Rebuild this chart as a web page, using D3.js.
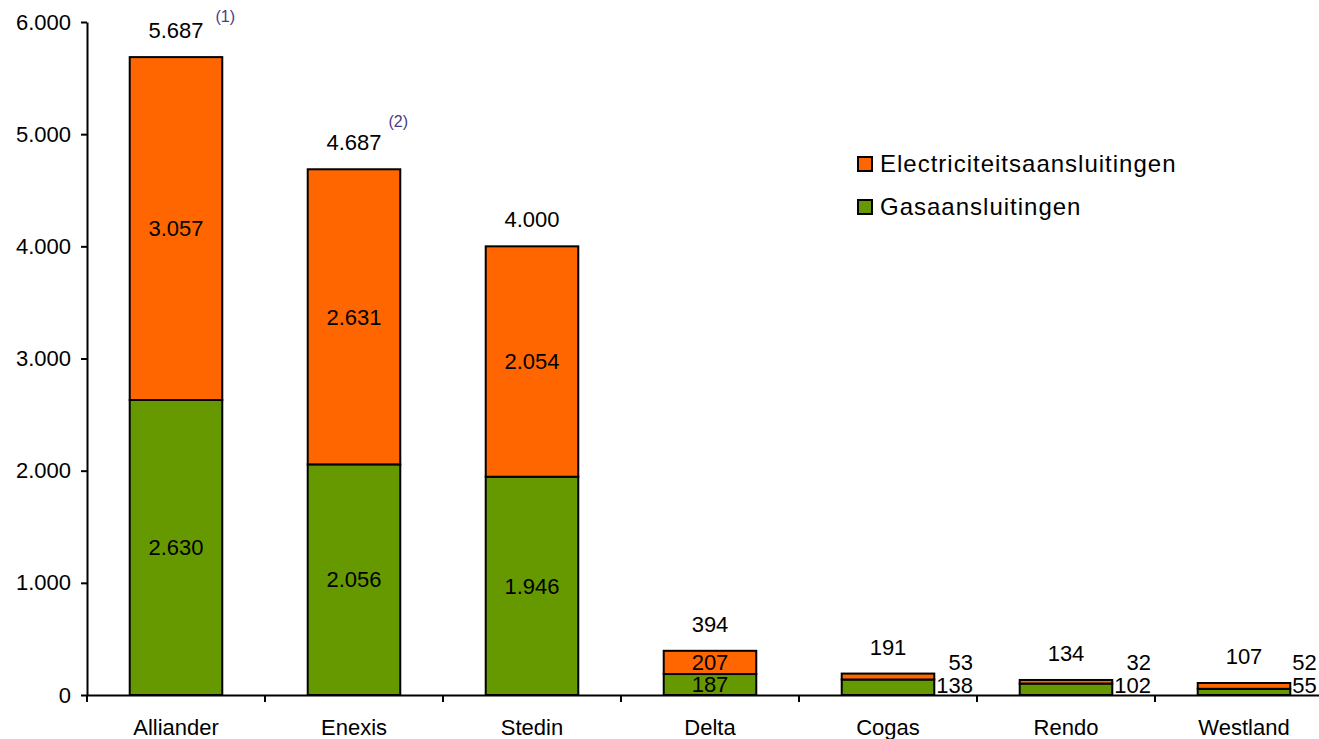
<!DOCTYPE html>
<html>
<head>
<meta charset="utf-8">
<script src="https://cdn.jsdelivr.net/npm/d3@7"></script>
<style>
  body { margin: 0; background: #fff; }
  svg { display: block; font-family: "Liberation Sans", Arial, sans-serif; }
</style>
</head>
<body>
<svg id="chart" width="1319" height="739"></svg>
<script>
var categories = ['Alliander', 'Enexis', 'Stedin', 'Delta', 'Cogas', 'Rendo', 'Westland'];
var gasValues = [2630, 2056, 1946, 187, 138, 102, 55];
var elecValues = [3057, 2631, 2054, 207, 53, 32, 52];
var totals = [5687, 4687, 4000, 394, 191, 134, 107];
var yTicks = [0, 1000, 2000, 3000, 4000, 5000, 6000];
var seriesNames = ['Electriciteitsaansluitingen', 'Gasaansluitingen'];
var notes = [{cat: 'Alliander', text: '(1)'}, {cat: 'Enexis', text: '(2)'}];
// small bars get their labels next to the bar
var sideLabelCats = ['Cogas', 'Rendo', 'Westland'];

var ORANGE = '#FF6600', GREEN = '#669900';
var fmt = function(v) { return d3.format(',')(v).replace(/,/g, '.'); };

var svg = d3.select('#chart');
var plotLeft = 87, plotBottom = 695, plotTop = 22, plotRight = 1333;

var x = d3.scaleBand().domain(categories).range([plotLeft, plotRight])
    .paddingInner(0.48).paddingOuter(0.24);
var y = d3.scaleLinear().domain([0, 6000]).range([plotBottom, plotTop]);

var rows = categories.map(function(c, i) {
    return {cat: c, gas: gasValues[i], elec: elecValues[i], total: totals[i]};
});

// y axis
var yAxis = svg.append('g').attr('transform', 'translate(' + plotLeft + ',0)')
    .call(d3.axisLeft(y).tickValues(yTicks).tickFormat(fmt).tickSize(6).tickSizeOuter(0));
yAxis.select('.domain').attr('stroke', '#000').attr('stroke-width', 2);
yAxis.selectAll('.tick line').attr('stroke', '#000').attr('stroke-width', 2);
yAxis.selectAll('.tick text').attr('font-size', 22).attr('fill', '#000')
    .attr('font-family', '"Liberation Sans", Arial, sans-serif').attr('x', -16);

// bars
var barG = svg.append('g');
rows.forEach(function(d) {
    barG.append('rect')
        .attr('x', x(d.cat)).attr('width', x.bandwidth())
        .attr('y', y(d.gas)).attr('height', y(0) - y(d.gas))
        .attr('fill', GREEN).attr('stroke', '#000').attr('stroke-width', 2);
    barG.append('rect')
        .attr('x', x(d.cat)).attr('width', x.bandwidth())
        .attr('y', y(d.gas + d.elec)).attr('height', y(d.gas) - y(d.gas + d.elec))
        .attr('fill', ORANGE).attr('stroke', '#000').attr('stroke-width', 2);
});

// x axis
var xAxis = svg.append('g').attr('transform', 'translate(0,' + plotBottom + ')')
    .call(d3.axisBottom(x).tickSize(0).tickSizeOuter(0));
xAxis.select('.domain').attr('stroke', '#000').attr('stroke-width', 2);
xAxis.selectAll('.tick text').attr('font-size', 22).attr('fill', '#000')
    .attr('font-family', '"Liberation Sans", Arial, sans-serif').attr('dy', 0).attr('y', 40);
// category boundary ticks
var half = x.step() * x.paddingInner() / 2;
var bounds = categories.map(function(c) { return x(c) - half; });
bounds.push(x(categories[categories.length - 1]) + x.bandwidth() + half);
xAxis.selectAll('line.bound').data(bounds).enter().append('line')
    .attr('class', 'bound')
    .attr('x1', function(d) { return d; }).attr('x2', function(d) { return d; })
    .attr('y1', 0).attr('y2', 7)
    .attr('stroke', '#000').attr('stroke-width', 2);

// labels
var lab = svg.append('g').attr('font-size', 22).attr('fill', '#000');
rows.forEach(function(d) {
    var cx = x(d.cat) + x.bandwidth() / 2;
    var topY = y(d.gas + d.elec);
    var t = lab.append('text').attr('x', cx).attr('y', topY - 19)
        .attr('text-anchor', 'middle').text(fmt(d.total));
    d.totalEnd = cx + t.node().getComputedTextLength() / 2;

    if (sideLabelCats.indexOf(d.cat) >= 0) {
        var gx = x(d.cat) + x.bandwidth() + 2;
        var g = lab.append('text').attr('x', gx).attr('y', y(0) - 10)
            .attr('dy', '0.35em').text(fmt(d.gas));
        var gEnd = gx + g.node().getComputedTextLength();
        lab.append('text').attr('x', gEnd).attr('y', y(0) - 33)
            .attr('dy', '0.35em').attr('text-anchor', 'end').text(fmt(d.elec));
    } else {
        lab.append('text').attr('x', cx).attr('y', (y(0) + y(d.gas)) / 2)
            .attr('dy', '0.35em').attr('text-anchor', 'middle').text(fmt(d.gas));
        lab.append('text').attr('x', cx).attr('y', (y(d.gas) + topY) / 2)
            .attr('dy', '0.35em').attr('text-anchor', 'middle').text(fmt(d.elec));
    }
});

// footnote marks
var noteDx = {'Alliander': 12, 'Enexis': 7};
var noteDy = {'Alliander': -35, 'Enexis': -42};
notes.forEach(function(n) {
    var d = rows[categories.indexOf(n.cat)];
    svg.append('text')
        .attr('x', d.totalEnd + noteDx[n.cat])
        .attr('y', y(d.total) + noteDy[n.cat])
        .attr('font-size', 16).attr('fill', '#4B3A86')
        .text(n.text);
});

// legend
var legend = svg.append('g').attr('transform', 'translate(858,157)');
[ORANGE, GREEN].forEach(function(col, i) {
    var g = legend.append('g').attr('transform', 'translate(0,' + (i * 43) + ')');
    g.append('rect').attr('width', 14).attr('height', 14)
        .attr('fill', col).attr('stroke', '#000').attr('stroke-width', 2);
    g.append('text').attr('x', 22).attr('y', 7).attr('dy', '0.35em')
        .attr('font-size', 24).attr('letter-spacing', 1).attr('fill', '#000')
        .text(seriesNames[i]);
});
</script>
</body>
</html>
